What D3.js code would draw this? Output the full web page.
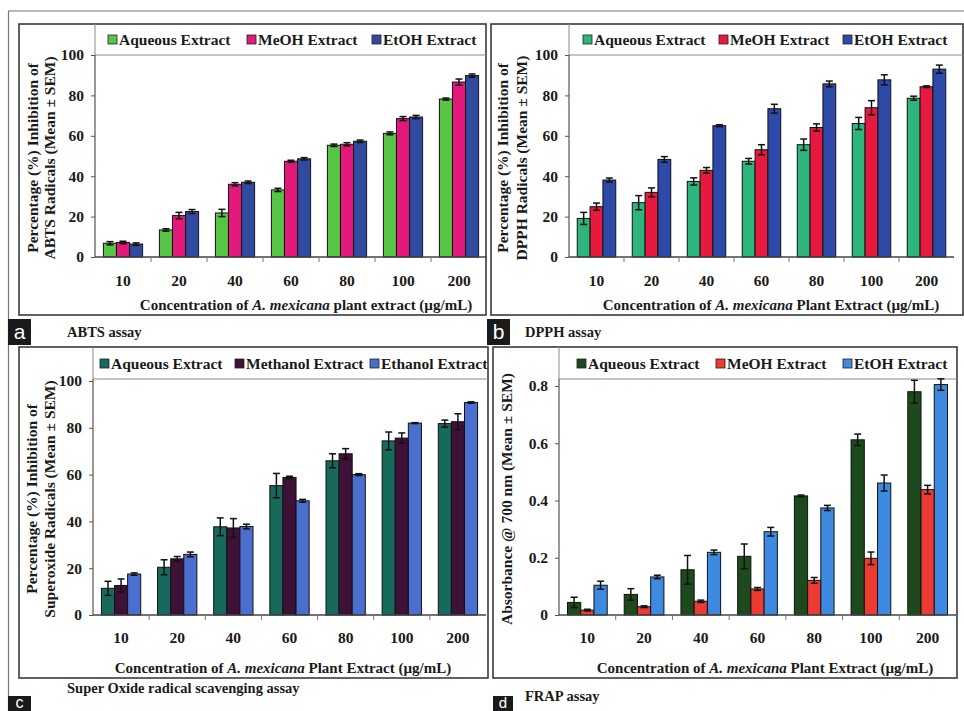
<!DOCTYPE html>
<html>
<head>
<meta charset="utf-8">
<script src="https://cdn.jsdelivr.net/npm/d3@7"></script>
<style>
  html, body { margin: 0; padding: 0; background: #fff; }
  svg { display: block; }
  text { font-family: "Liberation Serif", "Times New Roman", serif; font-weight: bold; }
</style>
</head>
<body>
<svg id="chart" width="964" height="711"></svg>
<script>
// ---------- DATA ----------
const categories = ["10", "20", "40", "60", "80", "100", "200"];

// (a) ABTS assay
const abtsSeries = ["Aqueous Extract", "MeOH Extract", "EtOH Extract"];
const abtsAqueous    = [6.8, 13.4, 21.8, 33.2, 55.3, 61.2, 78.2];
const abtsAqueousSem = [0.8, 0.6, 1.8, 0.8, 0.6, 0.7, 0.5];
const abtsMeOH       = [7.2, 20.5, 36.0, 47.4, 55.8, 68.5, 86.6];
const abtsMeOHSem    = [0.6, 1.6, 0.8, 0.5, 0.8, 1.0, 1.5];
const abtsEtOH       = [6.4, 22.5, 37.0, 48.6, 57.3, 69.3, 89.8];
const abtsEtOHSem    = [0.6, 1.0, 0.6, 0.6, 0.6, 0.8, 0.8];

// (b) DPPH assay
const dpphSeries = ["Aqueous Extract", "MeOH Extract", "EtOH Extract"];
const dpphAqueous    = [19.1, 26.9, 37.4, 47.4, 55.6, 66.1, 78.6];
const dpphAqueousSem = [3.0, 3.5, 1.8, 1.4, 2.8, 3.0, 1.0];
const dpphMeOH       = [24.9, 32.0, 42.9, 53.1, 64.1, 73.9, 84.3];
const dpphMeOHSem    = [1.8, 2.2, 1.4, 2.5, 1.8, 3.5, 0.4];
const dpphEtOH       = [38.1, 48.3, 65.0, 73.4, 85.7, 87.7, 93.0];
const dpphEtOHSem    = [1.0, 1.4, 0.5, 2.2, 1.4, 2.5, 2.0];

// (c) Super oxide radical scavenging assay
const soSeries = ["Aqueous Extract", "Methanol Extract", "Ethanol Extract"];
const soAqueous     = [11.4, 20.4, 37.7, 55.3, 65.9, 74.4, 81.8];
const soAqueousSem  = [3.0, 3.2, 3.8, 5.2, 3.0, 3.8, 1.5];
const soMethanol    = [12.6, 24.0, 37.2, 58.8, 68.9, 75.6, 82.6];
const soMethanolSem = [2.8, 1.0, 4.0, 0.5, 2.2, 2.2, 3.4];
const soEthanol     = [17.5, 25.9, 37.8, 48.8, 60.0, 82.0, 90.8];
const soEthanolSem  = [0.5, 1.0, 1.0, 0.6, 0.4, 0.2, 0.3];

// (d) FRAP assay
const frapSeries = ["Aqueous Extract", "MeOH Extract", "EtOH Extract"];
const frapAqueous    = [0.044, 0.072, 0.158, 0.205, 0.416, 0.612, 0.780];
const frapAqueousSem = [0.018, 0.020, 0.050, 0.043, 0.003, 0.020, 0.040];
const frapMeOH       = [0.017, 0.029, 0.048, 0.091, 0.121, 0.198, 0.438];
const frapMeOHSem    = [0.003, 0.003, 0.004, 0.005, 0.010, 0.022, 0.015];
const frapEtOH       = [0.104, 0.133, 0.219, 0.291, 0.374, 0.461, 0.805];
const frapEtOHSem    = [0.014, 0.006, 0.008, 0.015, 0.009, 0.028, 0.020];

const pctTicks = [0, 20, 40, 60, 80, 100];
const absTicks = [0, 0.2, 0.4, 0.6, 0.8];

// ---------- PANELS ----------
const panels = [
  {
    letter: "a", caption: "ABTS assay",
    series: abtsSeries, values: [abtsAqueous, abtsMeOH, abtsEtOH], sems: [abtsAqueousSem, abtsMeOHSem, abtsEtOHSem],
    colors: ["#58c445", "#e2187a", "#2f4a9e"],
    frame: {x: 19, y: 24, w: 467, h: 291},
    plot: {left: 95, right: 487, top: 55, bottom: 257},
    yDomain: [0, 100], yTop: 55, ticks: pctTicks, fmt: d3.format("d"),
    legendY: 40, legendX: [108, 247, 372],
    yTitle: ["Percentage (%) Inhibition of", "ABTS Radicals  (Mean ± SEM)"], yTitleX: [33, 50],
    xTitlePre: "Concentration of ", xTitleIt: "A. mexicana", xTitlePost: " plant extract (µg/mL)", xTitleX: 306, xTitleY: 310,
    tickLabelY: 286,
    box: {x: 8, y: 319, w: 23, h: 26}, letterSize: 21, letterY: 339, captionX: 67, captionY: 337
  },
  {
    letter: "b", caption: "DPPH assay",
    series: dpphSeries, values: [dpphAqueous, dpphMeOH, dpphEtOH], sems: [dpphAqueousSem, dpphMeOHSem, dpphEtOHSem],
    colors: ["#2db57b", "#e8193f", "#2e4aa8"],
    frame: {x: 491, y: 24, w: 472, h: 291},
    plot: {left: 569, right: 954, top: 55, bottom: 257},
    yDomain: [0, 100], yTop: 55, ticks: pctTicks, fmt: d3.format("d"),
    legendY: 40, legendX: [583, 719, 843],
    yTitle: ["Percentage (%) Inhibition of", "DPPH Radicals (Mean ± SEM)"], yTitleX: [503, 522],
    xTitlePre: "Concentration of ", xTitleIt: "A. mexicana", xTitlePost: " Plant Extract (µg/mL)", xTitleX: 771, xTitleY: 310,
    tickLabelY: 286,
    box: {x: 487, y: 319, w: 23, h: 26}, letterSize: 21, letterY: 339, captionX: 525, captionY: 337
  },
  {
    letter: "c", caption: "Super Oxide radical scavenging assay",
    series: soSeries, values: [soAqueous, soMethanol, soEthanol], sems: [soAqueousSem, soMethanolSem, soEthanolSem],
    colors: ["#17695c", "#3e1236", "#4a6fcf"],
    frame: {x: 19, y: 347, w: 469, h: 331},
    plot: {left: 93, right: 486, top: 379, bottom: 615},
    yDomain: [0, 100], yTop: 381, ticks: pctTicks, fmt: d3.format("d"),
    legendY: 364, legendX: [100, 235, 370],
    yTitle: ["Percentage (%) Inhibition of", "Superoxide Radicals (Mean ± SEM)"], yTitleX: [32, 50],
    xTitlePre: "Concentration of ", xTitleIt: "A. mexicana", xTitlePost: " Plant Extract (µg/mL)", xTitleX: 283, xTitleY: 673,
    tickLabelY: 643,
    box: {x: 8, y: 696, w: 23, h: 15}, letterSize: 16, letterY: 708, captionX: 67, captionY: 693
  },
  {
    letter: "d", caption: "FRAP assay",
    series: frapSeries, values: [frapAqueous, frapMeOH, frapEtOH], sems: [frapAqueousSem, frapMeOHSem, frapEtOHSem],
    colors: ["#1d4a1d", "#ec3b33", "#3d8ae0"],
    frame: {x: 493, y: 347, w: 464, h: 331},
    plot: {left: 559, right: 956, top: 379, bottom: 615},
    yDomain: [0, 0.8], yTop: 386, ticks: absTicks, fmt: d => d === 0 ? "0" : d3.format(".1f")(d),
    legendY: 364, legendX: [577, 716, 843],
    yTitle: ["Absorbance @ 700 nm (Mean ± SEM)"], yTitleX: [507],
    xTitlePre: "Concentration of ", xTitleIt: "A. mexicana", xTitlePost: " Plant Extract (µg/mL)", xTitleX: 765, xTitleY: 673,
    tickLabelY: 643,
    box: {x: 493, y: 696, w: 20, h: 15}, letterSize: 15, letterY: 708, captionX: 525, captionY: 701
  }
];

const svg = d3.select("#chart");
const ink = "#1a1a1a";

// outer thin frame lines
svg.append("line").attr("x1", 8).attr("x2", 964).attr("y1", 11).attr("y2", 11).attr("stroke", "#777").attr("stroke-width", 1.2);
svg.append("line").attr("x1", 8.5).attr("x2", 8.5).attr("y1", 11).attr("y2", 711).attr("stroke", "#777").attr("stroke-width", 1.2);

panels.forEach(p => {
  const g = svg.append("g");
  const f = p.frame, pl = p.plot;

  // frame
  g.append("rect").attr("x", f.x).attr("y", f.y).attr("width", f.w).attr("height", f.h)
    .attr("fill", "#fff").attr("stroke", "#3a3a3a").attr("stroke-width", 1.6);

  // legend box borders / plot top
  g.append("line").attr("x1", pl.left).attr("x2", pl.left).attr("y1", f.y).attr("y2", pl.top)
    .attr("stroke", "#8a8a8a").attr("stroke-width", 1);
  g.append("line").attr("x1", pl.left).attr("x2", f.x + f.w).attr("y1", pl.top).attr("y2", pl.top)
    .attr("stroke", "#8a8a8a").attr("stroke-width", 1);

  const x = d3.scaleBand().domain(categories).range([pl.left, pl.right]).padding(0);
  const bw = x.bandwidth();
  const inner = d3.scaleBand().domain(p.series).range([bw * 0.15, bw * 0.85]).padding(0);
  const y = d3.scaleLinear().domain(p.yDomain).range([pl.bottom, p.yTop]);

  // bars
  p.series.forEach((s, si) => {
    const rows = categories.map((c, i) => ({c, v: p.values[si][i], e: p.sems[si][i]}));
    g.append("g").selectAll("rect").data(rows).join("rect")
      .attr("x", d => x(d.c) + inner(s))
      .attr("y", d => y(d.v))
      .attr("width", inner.bandwidth())
      .attr("height", d => y(0) - y(d.v))
      .attr("fill", p.colors[si])
      .attr("stroke", "#111").attr("stroke-width", 1);
    // error bars
    const eg = g.append("g").attr("stroke", "#111").attr("stroke-width", 1.5);
    rows.forEach(d => {
      const cx = x(d.c) + inner(s) + inner.bandwidth() / 2;
      const y1 = y(d.v + d.e), y2 = y(Math.max(0, d.v - d.e));
      eg.append("line").attr("x1", cx).attr("x2", cx).attr("y1", y1).attr("y2", y2);
      eg.append("line").attr("x1", cx - 3.5).attr("x2", cx + 3.5).attr("y1", y1).attr("y2", y1);
      eg.append("line").attr("x1", cx - 3.5).attr("x2", cx + 3.5).attr("y1", y2).attr("y2", y2);
    });
  });

  // y axis
  const yAxis = d3.axisLeft(y).tickValues(p.ticks).tickFormat(p.fmt).tickSize(4).tickPadding(7);
  const ya = g.append("g").attr("transform", `translate(${pl.left},0)`).call(yAxis);
  ya.select(".domain").remove();
  ya.selectAll(".tick line").attr("stroke", "#555");
  ya.selectAll("text").style("font-size", "15.5px").style("font-family", "Liberation Serif").style("font-weight", "bold").style("fill", ink);
  g.append("line").attr("x1", pl.left).attr("x2", pl.left).attr("y1", pl.top).attr("y2", pl.bottom)
    .attr("stroke", "#555").attr("stroke-width", 1.2);

  // x axis line + ticks at band boundaries
  g.append("line").attr("x1", pl.left).attr("x2", pl.right).attr("y1", pl.bottom).attr("y2", pl.bottom)
    .attr("stroke", "#444").attr("stroke-width", 1.4);
  categories.forEach((c, i) => {
    if (i > 0) {
      g.append("line").attr("x1", x(c)).attr("x2", x(c)).attr("y1", pl.bottom).attr("y2", pl.bottom + 5)
        .attr("stroke", "#777").attr("stroke-width", 1);
    }
    g.append("text").attr("x", x(c) + bw / 2).attr("y", p.tickLabelY)
      .attr("text-anchor", "middle").style("font-size", "15.5px").style("fill", ink).text(c);
  });

  // x title
  const xt = g.append("text").attr("x", p.xTitleX).attr("y", p.xTitleY).attr("text-anchor", "middle")
    .style("font-size", "15px").style("fill", ink);
  xt.append("tspan").text(p.xTitlePre);
  xt.append("tspan").style("font-style", "italic").text(p.xTitleIt);
  xt.append("tspan").text(p.xTitlePost);

  // y title
  const yMid = (pl.top + pl.bottom) / 2 + 2;
  p.yTitle.forEach((t, i) => {
    g.append("text").attr("transform", `translate(${p.yTitleX[i] + 5},${yMid}) rotate(-90)`)
      .attr("text-anchor", "middle").style("font-size", "15.5px").style("fill", ink).text(t);
  });

  // legend
  p.series.forEach((s, si) => {
    const lx = p.legendX[si];
    g.append("rect").attr("x", lx).attr("y", p.legendY - 5).attr("width", 9).attr("height", 9)
      .attr("fill", p.colors[si]).attr("stroke", "#222").attr("stroke-width", 0.8);
    g.append("text").attr("x", lx + 11).attr("y", p.legendY + 5).style("font-size", "15.5px").style("fill", ink).text(s);
  });

  // panel letter box and caption
  svg.append("rect").attr("x", p.box.x).attr("y", p.box.y).attr("width", p.box.w).attr("height", p.box.h).attr("fill", "#1a1a1a");
  svg.append("text").attr("x", p.box.x + p.box.w / 2).attr("y", p.letterY)
    .attr("text-anchor", "middle")
    .style("font-family", "Liberation Sans, Arial, sans-serif").style("font-weight", "normal")
    .style("font-size", p.letterSize + "px").style("fill", "#ffffff").text(p.letter);
  svg.append("text").attr("x", p.captionX).attr("y", p.captionY).style("font-size", "14.5px").style("fill", ink).text(p.caption);
});
</script>
</body>
</html>
